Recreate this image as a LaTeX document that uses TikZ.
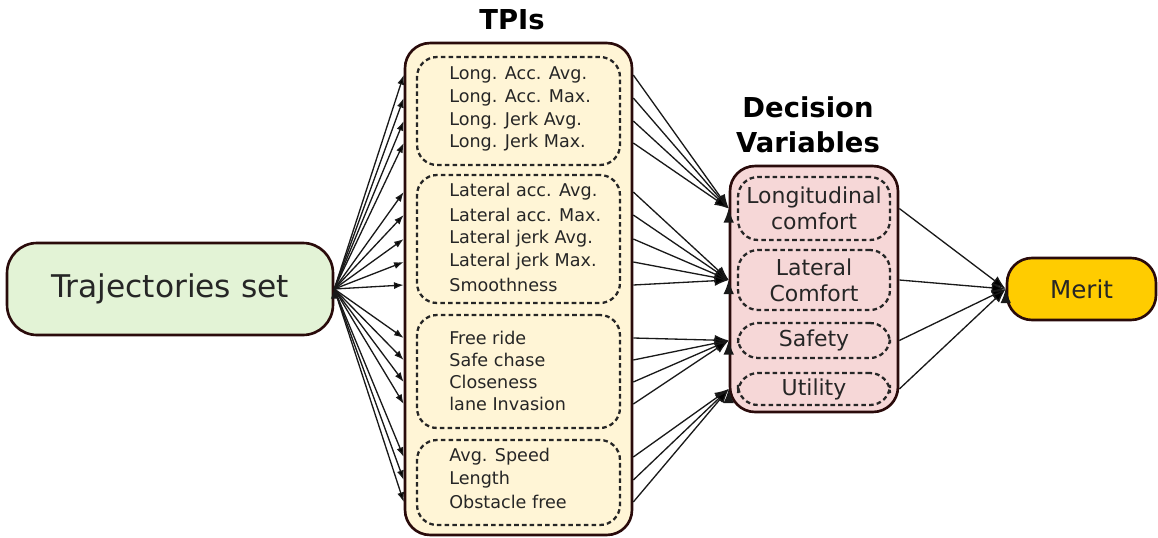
\documentclass[tikz,border=0pt]{standalone}
\usepackage{fontspec}
\setmainfont{DejaVu Sans}
\usetikzlibrary{arrows.meta}

\definecolor{boxedge}{HTML}{2A0B0B}
\definecolor{trajfill}{HTML}{E3F3D6}
\definecolor{tpifill}{HTML}{FFF5D6}
\definecolor{dvfill}{HTML}{F6D7D7}
\definecolor{meritfill}{HTML}{FFCC00}

\begin{document}
\begin{tikzpicture}[x=0.02cm,y=-0.02cm,
  outerbox/.style={rectangle,draw=boxedge,line width=1.5pt,rounded corners=0.5cm,inner sep=0pt},
  groupbox/.style={rectangle,draw=black!85,line width=1.3pt,dash pattern=on 2.6pt off 1.8pt,rounded corners=0.4cm,inner sep=0pt},
  item/.style={anchor=west,inner sep=0pt,text=black!85,font=\fontsize{10}{12}\selectfont},
  dvitem/.style={groupbox,minimum width=3.04cm,align=center,text=black!85,font=\fontsize{12.5}{14.8}\selectfont},
  title/.style={align=center,inner sep=0pt,font=\fontsize{15.6}{19.9}\selectfont\bfseries},
  small arrow/.style={>={Latex[length=5.5pt,width=4pt]},line width=0.75pt,draw=black!90},
  big arrow/.style={>={Latex[length=8pt,width=6pt]},line width=0.75pt,draw=black!90}]

  \useasboundingbox (0,0) rectangle (1158,537);

  % start and end
  \node[outerbox,fill=trajfill,minimum width=6.52cm,minimum height=1.84cm,rounded corners=0.6cm,
        font=\fontsize{17.8}{21}\selectfont,text=black!85] (traj) at (170,289) {Trajectories set};
  \node[outerbox,fill=meritfill,minimum width=2.98cm,minimum height=1.24cm,
        font=\fontsize{14}{17}\selectfont,text=black!85] (merit) at (1081.5,289) {Merit};

  % TPIs
  \node[outerbox,fill=tpifill,minimum width=4.54cm,minimum height=9.84cm] (tpi) at (518.5,289) {};
  \node[title] (tpititle) at (512,20) {TPIs};
  \node[groupbox,minimum width=4.06cm,minimum height=2.16cm] (glon) at (518.5,111) {};
  \node[groupbox,minimum width=4.06cm,minimum height=2.56cm] (glat) at (518.5,239) {};
  \node[groupbox,minimum width=4.06cm,minimum height=2.26cm] (gsaf) at (518.5,371.5) {};
  \node[groupbox,minimum width=4.06cm,minimum height=1.70cm] (guti) at (518.5,482.5) {};

  \node[item] (lon1) at (449,75) {Long. Acc. Avg.};
  \node[item] (lon2) at (449,98) {Long. Acc. Max.};
  \node[item] (lon3) at (449,121) {Long. Jerk Avg.};
  \node[item] (lon4) at (449,143) {Long. Jerk Max.};

  \node[item] (lat1) at (449,192) {Lateral acc. Avg.};
  \node[item] (lat2) at (449,215) {Lateral acc. Max.};
  \node[item] (lat3) at (449,239) {Lateral jerk Avg.};
  \node[item] (lat4) at (449,262) {Lateral jerk Max.};
  \node[item] (lat5) at (449,285) {Smoothness};

  \node[item] (saf1) at (449,338) {Free ride};
  \node[item] (saf2) at (449,360) {Safe chase};
  \node[item] (saf3) at (449,382) {Closeness};
  \node[item] (saf4) at (449,404) {lane Invasion};

  \node[item] (uti1) at (449,457) {Avg. Speed};
  \node[item] (uti2) at (449,480) {Length};
  \node[item] (uti3) at (449,502) {Obstacle free};

  % Decision variables
  \node[outerbox,fill=dvfill,minimum width=3.36cm,minimum height=4.92cm] (dv) at (814,289) {};
  \node[title] (dvtitle) at (808,125) {Decision\\Variables};
  \node[dvitem,minimum height=1.26cm] (dvlon) at (814,208.5) {Longitudinal\\comfort};
  \node[dvitem,minimum height=1.20cm] (dvlat) at (814,280) {Lateral\\Comfort};
  \node[dvitem,minimum height=0.70cm] (dvsaf) at (814,340.5) {Safety};
  \node[dvitem,minimum height=0.64cm] (dvuti) at (814,389) {Utility};

  % trajectories to TPIs
  \path[small arrow,->] (traj.east)
    edge (tpi.west |- lon1) edge (tpi.west |- lon2) edge (tpi.west |- lon3) edge (tpi.west |- lon4)
    edge (tpi.west |- lat1) edge (tpi.west |- lat2) edge (tpi.west |- lat3) edge (tpi.west |- lat4)
    edge (tpi.west |- lat5)
    edge (tpi.west |- saf1) edge (tpi.west |- saf2) edge (tpi.west |- saf3) edge (tpi.west |- saf4)
    edge (tpi.west |- uti1) edge (tpi.west |- uti2) edge (tpi.west |- uti3);

  % TPIs to decision variables
  \path[big arrow,<-] (dv.west |- dvlon)
    edge (tpi.east |- lon1) edge (tpi.east |- lon2) edge (tpi.east |- lon3) edge (tpi.east |- lon4);
  \path[big arrow,<-] (dv.west |- dvlat)
    edge (tpi.east |- lat1) edge (tpi.east |- lat2) edge (tpi.east |- lat3) edge (tpi.east |- lat4)
    edge (tpi.east |- lat5);
  \path[big arrow,<-] (dv.west |- dvsaf)
    edge (tpi.east |- saf1) edge (tpi.east |- saf2) edge (tpi.east |- saf3) edge (tpi.east |- saf4);
  \path[big arrow,<-] (dv.west |- dvuti)
    edge (tpi.east |- uti1) edge (tpi.east |- uti2) edge (tpi.east |- uti3);

  % decision variables to merit
  \path[big arrow,<-] (merit.west)
    edge (dv.east |- dvlon) edge (dv.east |- dvlat) edge (dv.east |- dvsaf) edge (dv.east |- dvuti);
\end{tikzpicture}
\end{document}
